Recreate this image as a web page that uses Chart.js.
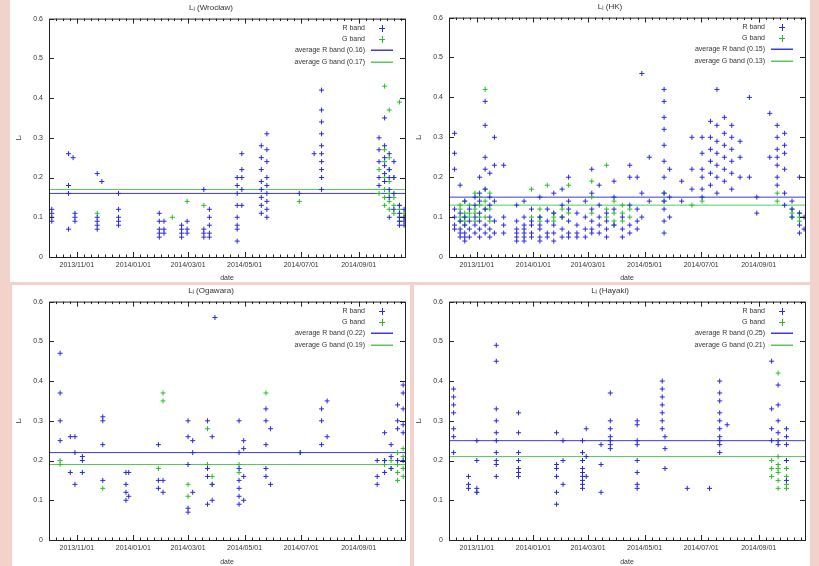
<!DOCTYPE html>
<html>
<head>
<meta charset="utf-8">
<script src="https://cdn.jsdelivr.net/npm/chart.js@4.4.0/dist/chart.umd.min.js"></script>
<style>
    html, body { margin: 0; padding: 0; }
    body { width: 819px; height: 566px; overflow: hidden; position: relative; background: #f3d2cc; }
    canvas { position: absolute; background: #fff; filter: blur(0.35px); }
</style>
</head>
<body>
<canvas id="panel-1" width="400" height="282" style="left:10px;top:0px"></canvas>
<canvas id="panel-2" width="400" height="282" style="left:410px;top:0px"></canvas>
<canvas id="panel-3" width="398" height="281" style="left:12px;top:285px"></canvas>
<canvas id="panel-4" width="396" height="281" style="left:414px;top:285px"></canvas>
<script>
// Shared axis data
const xRange = ['2013-10-02', '2014-10-21'];
const xTicks = ['2013-11-01', '2014-01-01', '2014-03-01', '2014-05-01', '2014-07-01', '2014-09-01'];
const yTicks = [0, 0.1, 0.2, 0.3, 0.4, 0.5, 0.6];

// Each group: [date, values measured that night]
const p1Title = 'Lᵢ (Wrocław)';
const p1R = [
    ['2013-10-05', [0.12, 0.11, 0.1, 0.09]],
    ['2013-10-23', [0.26, 0.18, 0.16, 0.07]],
    ['2013-10-28', [0.25]],
    ['2013-10-30', [0.11, 0.1, 0.09]],
    ['2013-11-23', [0.21, 0.1, 0.09, 0.08, 0.07]],
    ['2013-11-28', [0.19]],
    ['2013-12-16', [0.16, 0.12, 0.1, 0.09, 0.08]],
    ['2014-01-29', [0.11, 0.09, 0.07, 0.06, 0.05]],
    ['2014-02-03', [0.09, 0.07, 0.06]],
    ['2014-02-22', [0.08, 0.07, 0.06, 0.05]],
    ['2014-02-28', [0.09, 0.07, 0.06]],
    ['2014-03-18', [0.17, 0.07, 0.06, 0.05]],
    ['2014-03-24', [0.12, 0.1, 0.08, 0.06, 0.05]],
    ['2014-04-23', [0.2, 0.18, 0.16, 0.13, 0.1, 0.08, 0.07, 0.04]],
    ['2014-04-28', [0.26, 0.22, 0.2, 0.17, 0.13]],
    ['2014-05-19', [0.28, 0.25, 0.22, 0.19, 0.17, 0.15, 0.13, 0.11]],
    ['2014-05-25', [0.31, 0.27, 0.24, 0.2, 0.18, 0.16, 0.14, 0.12, 0.1]],
    ['2014-06-29', [0.16]],
    ['2014-07-15', [0.26]],
    ['2014-07-23', [0.42, 0.37, 0.34, 0.31, 0.28, 0.26, 0.24, 0.22, 0.2, 0.17]],
    ['2014-09-23', [0.3, 0.27, 0.24, 0.2, 0.18]],
    ['2014-09-29', [0.35, 0.28, 0.25, 0.23, 0.21, 0.19]],
    ['2014-10-04', [0.26, 0.22, 0.2, 0.17, 0.15, 0.1]],
    ['2014-10-09', [0.24, 0.2, 0.16, 0.12]],
    ['2014-10-15', [0.13, 0.11, 0.1, 0.09, 0.08]],
    ['2014-10-20', [0.12, 0.1, 0.09, 0.08]],
];
const p1G = [
    ['2013-10-23', [0.18]],
    ['2013-11-23', [0.11]],
    ['2014-02-12', [0.1]],
    ['2014-02-28', [0.14]],
    ['2014-03-18', [0.13]],
    ['2014-06-29', [0.14]],
    ['2014-09-23', [0.22, 0.16]],
    ['2014-09-29', [0.43, 0.27, 0.24, 0.2, 0.17, 0.15, 0.13]],
    ['2014-10-04', [0.37, 0.25, 0.22, 0.19, 0.16, 0.14, 0.12]],
    ['2014-10-09', [0.2, 0.15, 0.13, 0.11]],
    ['2014-10-15', [0.39, 0.13, 0.12, 0.1, 0.09]],
    ['2014-10-20', [0.11, 0.1]],
];
const p1Avg = [0.16, 0.17];

const p2Title = 'Lᵢ (HK)';
const p2R = [
    ['2013-10-08', [0.31, 0.26, 0.22, 0.12, 0.1, 0.08, 0.07]],
    ['2013-10-14', [0.18, 0.11, 0.09, 0.07, 0.06, 0.05]],
    ['2013-10-19', [0.14, 0.1, 0.08, 0.06, 0.05, 0.04]],
    ['2013-10-24', [0.12, 0.09, 0.07, 0.05]],
    ['2013-10-30', [0.15, 0.13, 0.1, 0.08, 0.06]],
    ['2013-11-04', [0.2, 0.16, 0.14, 0.11, 0.09, 0.07, 0.05]],
    ['2013-11-10', [0.39, 0.33, 0.25, 0.22, 0.17, 0.12, 0.08, 0.06]],
    ['2013-11-15', [0.21, 0.15, 0.13, 0.1, 0.07, 0.05]],
    ['2013-11-20', [0.3, 0.23, 0.14, 0.09, 0.06]],
    ['2013-11-30', [0.23, 0.1, 0.08, 0.06]],
    ['2013-12-14', [0.13, 0.09, 0.07, 0.06, 0.05, 0.04]],
    ['2013-12-22', [0.14, 0.1, 0.08, 0.07, 0.06, 0.05, 0.04]],
    ['2013-12-30', [0.12, 0.09, 0.08, 0.06, 0.05]],
    ['2014-01-08', [0.15, 0.1, 0.08, 0.07, 0.05, 0.04]],
    ['2014-01-16', [0.12, 0.09, 0.06, 0.05]],
    ['2014-01-23', [0.16, 0.11, 0.08, 0.06, 0.04]],
    ['2014-02-01', [0.17, 0.13, 0.1, 0.07, 0.05]],
    ['2014-02-08', [0.2, 0.14, 0.12, 0.09, 0.06, 0.05]],
    ['2014-02-17', [0.11, 0.08, 0.06, 0.05]],
    ['2014-02-26', [0.14, 0.1, 0.07, 0.05]],
    ['2014-03-05', [0.22, 0.16, 0.12, 0.09, 0.07, 0.06]],
    ['2014-03-13', [0.18, 0.13, 0.1, 0.08, 0.06]],
    ['2014-03-21', [0.11, 0.09, 0.07, 0.05]],
    ['2014-03-29', [0.19, 0.15, 0.12, 0.08]],
    ['2014-04-07', [0.1, 0.07, 0.05]],
    ['2014-04-15', [0.23, 0.2, 0.13, 0.08, 0.06]],
    ['2014-04-23', [0.2, 0.12, 0.09, 0.07]],
    ['2014-04-28', [0.46, 0.16, 0.1]],
    ['2014-05-06', [0.25, 0.14]],
    ['2014-05-22', [0.42, 0.39, 0.35, 0.32, 0.28, 0.24, 0.2, 0.16, 0.14, 0.12, 0.09, 0.06]],
    ['2014-05-28', [0.22, 0.15, 0.1]],
    ['2014-06-10', [0.19, 0.14]],
    ['2014-06-21', [0.3, 0.22, 0.17]],
    ['2014-07-02', [0.3, 0.26, 0.22, 0.2, 0.17, 0.15]],
    ['2014-07-11', [0.34, 0.3, 0.27, 0.24, 0.21, 0.18]],
    ['2014-07-18', [0.42, 0.33, 0.29, 0.26, 0.23, 0.2, 0.16]],
    ['2014-07-26', [0.35, 0.31, 0.28, 0.25, 0.22, 0.19]],
    ['2014-08-03', [0.33, 0.3, 0.27, 0.24, 0.21, 0.17]],
    ['2014-08-12', [0.29, 0.25, 0.2]],
    ['2014-08-22', [0.4, 0.2]],
    ['2014-08-30', [0.15, 0.11]],
    ['2014-09-13', [0.36, 0.25]],
    ['2014-09-21', [0.33, 0.3, 0.27, 0.25, 0.23, 0.2, 0.18]],
    ['2014-09-29', [0.31, 0.28, 0.26, 0.22, 0.16, 0.13]],
    ['2014-10-07', [0.14, 0.12, 0.1]],
    ['2014-10-15', [0.2, 0.11, 0.08, 0.06]],
    ['2014-10-20', [0.1, 0.07]],
];
const p2G = [
    ['2013-10-14', [0.13, 0.12, 0.1, 0.09]],
    ['2013-10-19', [0.14, 0.11, 0.1, 0.09, 0.08]],
    ['2013-10-24', [0.13, 0.11, 0.1]],
    ['2013-10-30', [0.16, 0.12, 0.11, 0.09]],
    ['2013-11-04', [0.15, 0.13, 0.1]],
    ['2013-11-10', [0.42, 0.17, 0.14, 0.12, 0.1]],
    ['2013-11-15', [0.16, 0.12, 0.09]],
    ['2013-12-30', [0.17, 0.1]],
    ['2014-01-08', [0.12, 0.1, 0.09]],
    ['2014-01-16', [0.18]],
    ['2014-01-23', [0.11, 0.1, 0.09]],
    ['2014-02-01', [0.12, 0.1]],
    ['2014-02-08', [0.18, 0.11]],
    ['2014-03-05', [0.19, 0.15, 0.11]],
    ['2014-03-21', [0.23, 0.12, 0.1]],
    ['2014-03-29', [0.14, 0.11, 0.09, 0.08]],
    ['2014-04-07', [0.13, 0.11, 0.09]],
    ['2014-04-15', [0.12, 0.1]],
    ['2014-05-22', [0.16, 0.14]],
    ['2014-06-21', [0.13]],
    ['2014-07-02', [0.14]],
    ['2014-09-21', [0.16, 0.14]],
    ['2014-10-07', [0.12, 0.11, 0.1]],
    ['2014-10-15', [0.11, 0.1, 0.09]],
];
const p2Avg = [0.15, 0.13];

const p3Title = 'Lᵢ (Ogawara)';
const p3R = [
    ['2013-10-14', [0.47, 0.37, 0.3, 0.25]],
    ['2013-10-25', [0.26, 0.17]],
    ['2013-10-30', [0.26, 0.22, 0.14]],
    ['2013-11-07', [0.21, 0.2, 0.17]],
    ['2013-11-29', [0.31, 0.3, 0.24, 0.15]],
    ['2013-12-24', [0.17, 0.14, 0.12, 0.1]],
    ['2013-12-27', [0.17, 0.11]],
    ['2014-01-28', [0.24, 0.15, 0.13]],
    ['2014-02-02', [0.15, 0.12]],
    ['2014-03-01', [0.3, 0.26, 0.19, 0.08, 0.07]],
    ['2014-03-06', [0.25, 0.22, 0.12]],
    ['2014-03-22', [0.3, 0.18, 0.16, 0.09]],
    ['2014-03-27', [0.26, 0.14, 0.1]],
    ['2014-03-30', [0.56]],
    ['2014-04-25', [0.3, 0.22, 0.18, 0.15, 0.13, 0.11, 0.09]],
    ['2014-04-30', [0.25, 0.23, 0.16, 0.1]],
    ['2014-05-24', [0.33, 0.3, 0.24, 0.18, 0.16]],
    ['2014-05-29', [0.28, 0.14]],
    ['2014-06-30', [0.22]],
    ['2014-07-23', [0.33, 0.3, 0.24]],
    ['2014-07-29', [0.35, 0.26]],
    ['2014-09-21', [0.2, 0.16, 0.14]],
    ['2014-09-29', [0.27, 0.2, 0.17]],
    ['2014-10-06', [0.24, 0.21, 0.18]],
    ['2014-10-13', [0.34, 0.3, 0.28, 0.2]],
    ['2014-10-19', [0.39, 0.37, 0.33, 0.29, 0.27, 0.2]],
];
const p3G = [
    ['2013-10-14', [0.2, 0.19]],
    ['2013-11-29', [0.13]],
    ['2014-01-28', [0.18]],
    ['2014-02-02', [0.37, 0.35]],
    ['2014-03-01', [0.14, 0.11]],
    ['2014-03-22', [0.28, 0.19]],
    ['2014-03-27', [0.16, 0.14]],
    ['2014-04-25', [0.19, 0.17]],
    ['2014-05-24', [0.37]],
    ['2014-06-30', [0.22]],
    ['2014-09-29', [0.2, 0.19]],
    ['2014-10-06', [0.2, 0.18]],
    ['2014-10-13', [0.22, 0.19, 0.17, 0.15]],
    ['2014-10-19', [0.23, 0.21, 0.18, 0.16]],
];
const p3Avg = [0.22, 0.19];

const p4Title = 'Lᵢ (Hayaki)';
const p4R = [
    ['2013-10-07', [0.38, 0.36, 0.34, 0.32, 0.28, 0.26, 0.22]],
    ['2013-10-23', [0.16, 0.14, 0.13]],
    ['2013-11-01', [0.25, 0.2, 0.13, 0.12]],
    ['2013-11-22', [0.49, 0.45, 0.33, 0.3, 0.27, 0.25, 0.22, 0.2, 0.19, 0.16]],
    ['2013-12-16', [0.32, 0.27, 0.22, 0.2, 0.18, 0.17, 0.16]],
    ['2014-01-26', [0.27, 0.19, 0.18, 0.16, 0.12, 0.09]],
    ['2014-02-02', [0.25, 0.2, 0.14]],
    ['2014-02-23', [0.25, 0.22, 0.2, 0.18, 0.17, 0.16, 0.15, 0.14, 0.13]],
    ['2014-02-27', [0.28, 0.21, 0.16]],
    ['2014-03-15', [0.24, 0.19, 0.12]],
    ['2014-03-25', [0.37, 0.3, 0.28, 0.26, 0.25, 0.24, 0.23]],
    ['2014-04-23', [0.3, 0.29, 0.25, 0.24, 0.2, 0.17, 0.14, 0.13]],
    ['2014-05-20', [0.4, 0.38, 0.36, 0.34, 0.32, 0.3, 0.28]],
    ['2014-05-23', [0.26, 0.23, 0.18]],
    ['2014-06-16', [0.13]],
    ['2014-07-10', [0.13]],
    ['2014-07-21', [0.4, 0.37, 0.35, 0.32, 0.3, 0.28, 0.26, 0.25, 0.24, 0.22]],
    ['2014-07-29', [0.29]],
    ['2014-09-15', [0.45, 0.33, 0.28, 0.25]],
    ['2014-09-22', [0.39, 0.34, 0.3, 0.27, 0.25, 0.24]],
    ['2014-10-01', [0.28, 0.26, 0.24, 0.2, 0.15]],
];
const p4G = [
    ['2013-11-01', [0.12]],
    ['2014-09-15', [0.2, 0.18, 0.16]],
    ['2014-09-22', [0.42, 0.21, 0.19, 0.18, 0.17, 0.15, 0.13]],
    ['2014-10-01', [0.2, 0.18, 0.16, 0.14, 0.13]],
];
const p4Avg = [0.25, 0.21];

const FONT = '"Liberation Sans", Arial, sans-serif';
const BLUE = 'rgb(40, 40, 225)';
const GREEN = 'rgb(40, 190, 40)';
const BLUE_LINE = 'rgb(60, 60, 215)';
const GREEN_LINE = 'rgb(90, 200, 90)';
const KEY_COLORS = [BLUE, GREEN, BLUE_LINE, GREEN_LINE];
const TEXT = '#333';

function toDay(s) {
    return Date.UTC(+s.slice(0, 4), +s.slice(5, 7) - 1, +s.slice(8, 10)) / 864e5;
}

function fmtDay(v) {
    const d = new Date(v * 864e5);
    const p = n => String(n).padStart(2, '0');
    return d.getUTCFullYear() + '/' + p(d.getUTCMonth() + 1) + '/' + p(d.getUTCDate());
}

function toPoints(groups) {
    return groups.flatMap(([d, vals]) => vals.map(v => ({ x: toDay(d), y: v })));
}

// gnuplot-style frame with inward ticks on all sides, and key in the top right
const gnuplotFrame = {
    id: 'gnuplotFrame',
    afterDraw(chart) {
        const { ctx, chartArea: a, scales: { x, y } } = chart;
        ctx.save();
        ctx.strokeStyle = '#222';
        ctx.lineWidth = 1;
        ctx.strokeRect(a.left + 0.5, a.top + 0.5, a.right - a.left, a.bottom - a.top);
        ctx.beginPath();
        y.ticks.forEach(t => {
            const py = Math.round(y.getPixelForValue(t.value)) + 0.5;
            ctx.moveTo(a.left, py); ctx.lineTo(a.left + 5, py);
            ctx.moveTo(a.right, py); ctx.lineTo(a.right - 5, py);
        });
        const majors = x.ticks.map(t => t.value);
        const step = (majors[1] - majors[0]) / 8;
        const tick = (v, len) => {
            if (v < x.min || v > x.max) return;
            const px = Math.round(x.getPixelForValue(v)) + 0.5;
            ctx.moveTo(px, a.bottom); ctx.lineTo(px, a.bottom - len);
            ctx.moveTo(px, a.top); ctx.lineTo(px, a.top + len);
        };
        majors.forEach((v, i) => {
            tick(v, 5);
            const s = i < majors.length - 1 ? (majors[i + 1] - v) / 8 : step;
            for (let k = 1; k < 8; k++) tick(v + k * s, 2.5);
            if (i === 0) for (let k = 1; k < 8; k++) tick(v - k * step, 2.5);
            if (i === majors.length - 1) for (let k = 8; k < 16; k++) tick(v + k * step, k === 8 ? 5 : 2.5);
        });
        ctx.stroke();

        ctx.font = '7px ' + FONT;
        ctx.textAlign = 'right';
        ctx.textBaseline = 'middle';
        const right = Math.round(a.right);
        chart.data.datasets.forEach((ds, i) => {
            const ky = Math.round(a.top + 9 + i * 11.3);
            ctx.fillStyle = TEXT;
            ctx.fillText(ds.label, right - 40, ky + 0.5);
            ctx.fillStyle = KEY_COLORS[i];
            if (i >= 2) {
                ctx.fillRect(right - 34, ky - 0.5, 22, 1.5);
            } else {
                ctx.fillRect(right - 26, ky, 6, 1);
                ctx.fillRect(right - 23, ky - 3, 1, 7);
            }
        });
        ctx.restore();
    },
};

function drawPanel(id, title, rGroups, gGroups, avg, layout) {
    const ctx = document.getElementById(id).getContext('2d');
    const xMin = toDay(xRange[0]);
    const xMax = toDay(xRange[1]);
    const marks = color => ({
        pointStyle: 'cross',
        pointRadius: 2.5,
        borderColor: color,
        backgroundColor: color,
        borderWidth: 1,
    });
    const avgLine = (label, value, color) => ({
        type: 'line',
        label: label + ' (' + value.toFixed(2) + ')',
        data: [{ x: xMin, y: value }, { x: xMax, y: value }],
        borderColor: color,
        borderWidth: 1,
        pointRadius: 0,
        fill: false,
    });

    return new Chart(ctx, {
        type: 'scatter',
        data: {
            datasets: [
                { label: 'R band', data: toPoints(rGroups), ...marks(BLUE) },
                { label: 'G band', data: toPoints(gGroups), ...marks(GREEN) },
                avgLine('average R band', avg[0], BLUE_LINE),
                avgLine('average G band', avg[1], GREEN_LINE),
            ],
        },
        options: {
            responsive: false,
            animation: false,
            layout: { padding: layout.padding },
            plugins: {
                legend: { display: false },
                tooltip: { enabled: false },
                title: {
                    display: true,
                    text: title,
                    color: TEXT,
                    font: { family: FONT, size: 8, weight: 'normal' },
                    padding: { top: layout.titleTop, bottom: 6 },
                },
            },
            scales: {
                x: {
                    type: 'linear',
                    min: xMin,
                    max: xMax,
                    afterBuildTicks: axis => {
                        axis.ticks = xTicks.map(s => ({ value: toDay(s) }));
                    },
                    afterFit: s => { s.height = layout.xHeight; },
                    ticks: {
                        callback: v => fmtDay(v),
                        color: TEXT,
                        font: { family: FONT, size: 7 },
                        maxRotation: 0,
                        autoSkip: false,
                        padding: 4,
                    },
                    grid: { display: false, drawTicks: false, tickLength: 0 },
                    border: { display: false },
                    title: { display: true, text: 'date', color: TEXT, font: { family: FONT, size: 7 }, padding: 0 },
                },
                y: {
                    min: 0,
                    max: 0.6,
                    afterBuildTicks: axis => {
                        axis.ticks = yTicks.map(v => ({ value: v }));
                    },
                    afterFit: s => { s.width = 34; },
                    ticks: {
                        callback: v => String(v),
                        color: TEXT,
                        font: { family: FONT, size: 7 },
                        padding: 6,
                    },
                    grid: { display: false, drawTicks: false, tickLength: 0 },
                    border: { display: false },
                    title: { display: true, text: 'Lᵢ', color: TEXT, font: { family: FONT, size: 7 }, padding: 0 },
                },
            },
        },
        plugins: [gnuplotFrame],
    });
}

drawPanel('panel-1', p1Title, p1R, p1G, p1Avg, { padding: { left: 5, right: 3, top: 0, bottom: 0 }, titleTop: 3, xHeight: 25 });
drawPanel('panel-2', p2Title, p2R, p2G, p2Avg, { padding: { left: 5, right: 5, top: 0, bottom: 0 }, titleTop: 2, xHeight: 25 });
drawPanel('panel-3', p3Title, p3R, p3G, p3Avg, { padding: { left: 3, right: 3, top: 0, bottom: 0 }, titleTop: 1, xHeight: 26 });
drawPanel('panel-4', p4Title, p4R, p4G, p4Avg, { padding: { left: 1, right: 5, top: 0, bottom: 0 }, titleTop: 1, xHeight: 26 });
</script>
</body>
</html>
